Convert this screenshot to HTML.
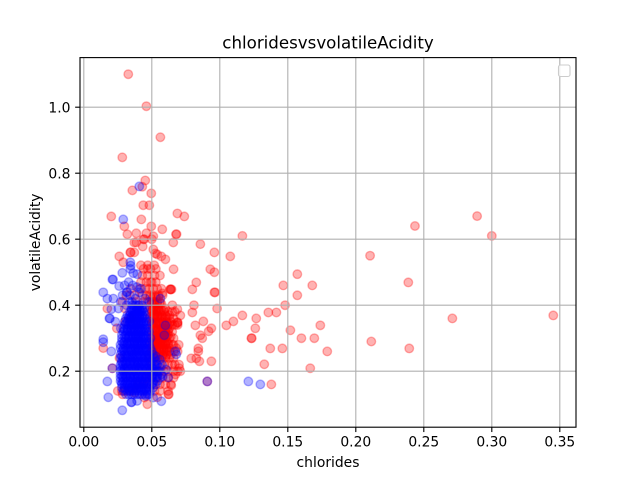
<!DOCTYPE html>
<html lang="en">
<head>
<meta charset="utf-8">
<title>chloridesvsvolatileAcidity</title>
<style>
html,body{margin:0;padding:0;background:#fff;}
#chart{display:block;width:640px;height:480px;font-family:"DejaVu Sans","Liberation Sans",sans-serif;}
</style>
</head>
<body>
<svg id="chart" xmlns="http://www.w3.org/2000/svg" width="640" height="480" viewBox="0 0 640 480">
  <rect x="0" y="0" width="640" height="480" fill="#fff"/>
  <rect x="80" y="57.6" width="496" height="369.6" fill="#fff"/>
  <g id="red-series"></g>
  <g id="blue-series"></g>
  <g id="grid"></g>
  <g id="axes"></g>
  <rect x="558.5" y="65" width="11.5" height="11.5" rx="2" ry="2" fill="#fff" fill-opacity="0.8" stroke="#ccc" stroke-width="1.1"/>
  <rect x="80" y="57.6" width="496" height="369.6" fill="none" stroke="#000" stroke-width="1.11"/>
  <text x="328" y="48.5" font-size="16.67" text-anchor="middle" fill="#000">chloridesvsvolatileAcidity</text>
  <text x="328" y="467" font-size="13.89" text-anchor="middle" fill="#000">chlorides</text>
  <text transform="translate(40 242.4) rotate(-90)" font-size="13.89" text-anchor="middle" fill="#000">volatileAcidity</text>
</svg>
<script>
const xTicks = [0, 0.05, 0.1, 0.15, 0.2, 0.25, 0.3, 0.35];
const xTickLabels = ["0.00", "0.05", "0.10", "0.15", "0.20", "0.25", "0.30", "0.35"];
const yTicks = [0.2, 0.4, 0.6, 0.8, 1.0];
const yTickLabels = ["0.2", "0.4", "0.6", "0.8", "1.0"];

const redChlorides = [
.0327,.046,.0563,.0283,.0452,.043,.0357,.0496,.0437,.0482,
.0688,.0739,.0202,.0423,.0298,.0496,.0577,.032,.0386,.046,
.0511,.0437,.0445,.05,.0371,.0386,.0433,.0658,.0678,.0682,
.0511,.0526,.054,.057,.06,.0261,.029,.0342,.0345,.0371,
.042,.047,.0518,.066,.1166,.0857,.096,.1077,.093,.096,
.157,.0827,.1467,.168,.0798,.064,.0645,.096,.0965,.157,
.148,.098,.081,.0798,.1166,.1357,.1416,.1268,.11,.1048,
.0879,.082,.0938,.0918,.1261,.1519,.1739,.16,.1695,.1232,
.1235,.0857,.0871,.179,.1371,.146,.0842,.0842,.079,.0827,
.085,.0938,.1327,.1665,.1379,.0908,.2435,.2892,.30,.2105,
.2386,.2114,.2393,.271,.3452,.0688,.0690,.0688,.071,.0688,
.0651,.0634,.0638,.0577,.0143,.021,.0467,.054,.0621,.0625,
.0643,.0673,.0702,.0698,.066,.068,.0345,.0372,.0312,.0283,
.0302,.0341,.0243,.0173,.0262,.0382,.0305,.0285,.0372,.0445
];
const redAcidity = [
1.10,1.003,.909,.848,.778,.759,.748,.739,.703,.703,
.678,.669,.669,.66,.639,.639,.63,.615,.618,.618,
.609,.6,.6,.6,.59,.59,.578,.59,.615,.615,
.569,.557,.554,.548,.539,.548,.53,.56,.56,.56,
.521,.521,.521,.509,.61,.585,.56,.548,.509,.50,
.494,.469,.46,.46,.448,.448,.448,.439,.439,.43,
.40,.39,.40,.378,.369,.378,.378,.36,.351,.339,
.351,.339,.33,.321,.33,.324,.339,.30,.30,.30,
.30,.309,.30,.26,.269,.269,.269,.26,.239,.239,
.23,.23,.221,.209,.16,.169,.64,.67,.61,.55,
.469,.29,.269,.36,.369,.348,.348,.345,.369,.388,
.40,.448,.448,.436,.27,.209,.10,.121,.13,.13,
.157,.19,.209,.28,.28,.27,.45,.43,.43,.41,
.39,.36,.33,.39,.24,.41,.35,.13,.135,.12
];

const redClusterAcidity = [.51,.49,.47,.45,.43,.41,.39,.38,.37,.36,.35,.34,.33,.32,.31,.30,.29,.28,.27,.26,.25,.24,.22,.20,.18,.16,.14,
.425,.405,.385,.365,.345,.325,.305,.285,.265,.245];
const redClusterChlorides = [
[.044,.049,.053,.047],
[.043,.047,.052,.056],
[.042,.046,.049,.053,.05],
[.041,.045,.048,.051,.054,.057],
[.043,.046,.049,.052,.055,.058],
[.044,.047,.05,.052,.054,.056,.051],
[.049,.051,.053,.055,.06,.052],
[.047,.05,.053,.056,.059,.062,.065,.067],
[.051,.054,.057,.06,.052,.063],
[.048,.051,.054,.057,.06,.063,.066],
[.05,.052,.055,.058,.061,.064],
[.05,.053,.056,.059,.062,.065,.067,.069],
[.051,.053,.055,.057,.059,.061,.063],
[.05,.053,.056,.058,.06,.062,.065],
[.052,.054,.056,.058,.06,.062,.057],
[.05,.052,.054,.056,.058,.06,.063,.066],
[.051,.053,.055,.057,.059,.061,.054],
[.05,.052,.054,.056,.058,.06,.062,.065],
[.051,.053,.055,.057,.059,.061,.063],
[.05,.053,.056,.059,.061,.063,.066,.069],
[.052,.055,.058,.061,.064],
[.048,.051,.054,.057,.06,.063,.066],
[.05,.053,.056,.059,.062,.065,.067,.07],
[.05,.053,.056,.059,.062,.066,.069,.071],
[.046,.05,.054,.058,.062,.066],
[.04,.044,.048,.052,.056,.06,.064],
[.025,.028,.03,.034,.052,.056,.062],
[.049,.051,.053,.055],
[.05,.052,.054,.056,.057],
[.05,.051,.053,.055,.057,.059],
[.049,.052,.054,.056,.058,.061],
[.05,.051,.053,.055,.057,.059,.061,.063],
[.049,.052,.054,.056,.058,.06,.062],
[.05,.051,.053,.055,.057,.059,.061,.064],
[.049,.052,.054,.056,.058,.06,.062],
[.05,.051,.053,.055,.057,.059,.061],
[.052,.054,.056,.058,.06]
];

const blueChlorides = [
.0408,.029,.0342,.0345,.0342,.0283,.021,.0215,.026,.0143,
.0315,.0318,.0408,.0173,.0217,.0272,.0202,.0188,.0192,.0143,
.0143,.0202,.021,.0173,.018,.0283,.0349,.0352,.0392,.057,
.0621,.0673,.068,.0482,.06,.0592,.0563,.0908,.121,.1298,
.0364,.0393,.033,.036,.039,.042,.03,.034,.045,.048,
.0285,.0335,.038,.043,.0255,.0315,.0355,.0405,.0445,.0232,
.0272,.053,.056,.0575,.0605,.054,.058,.0455,.048,.051
];
const blueAcidity = [
.76,.66,.53,.52,.51,.498,.478,.478,.458,.439,
.439,.44,.439,.42,.42,.41,.388,.36,.36,.297,
.288,.26,.209,.169,.121,.0815,.106,.106,.11,.109,
.181,.26,.251,.351,.339,.309,.42,.169,.169,.16,
.497,.494,.47,.46,.455,.45,.46,.43,.42,.41,
.43,.41,.42,.40,.39,.40,.41,.40,.39,.35,
.33,.245,.235,.22,.205,.20,.185,.125,.13,.12
];

const blueClusterAcidity = [.13,.14,.15,.16,.17,.18,.19,.20,.21,.22,.23,.24,.25,.26,.27,.28,.29,.30,.31,.32,.33,.34,.35,.36,.37,.38,.39,.40,
.145,.165,.185,.205,.225,.245,.265,.285,.305,.325,.345,.365,.385];
const blueClusterChlorides = [
[.031,.033,.035,.037,.039,.041,.043,.045,.047],
[.029,.032,.034,.036,.038,.04,.042,.044,.046,.049],
[.028,.03,.033,.035,.037,.039,.041,.043,.046,.048,.051],
[.028,.03,.032,.034,.036,.038,.04,.042,.044,.047,.05,.053],
[.027,.029,.032,.034,.036,.039,.041,.043,.045,.048,.051,.054],
[.027,.029,.031,.034,.036,.038,.04,.043,.045,.047,.05,.053,.056],
[.027,.03,.032,.034,.037,.039,.041,.044,.046,.048,.051,.054,.057],
[.027,.029,.031,.033,.036,.038,.04,.042,.045,.047,.049,.052,.055],
[.027,.03,.032,.035,.037,.039,.041,.043,.046,.048,.05,.053,.056],
[.027,.029,.031,.034,.036,.038,.04,.042,.044,.047,.049,.052,.054],
[.028,.03,.032,.035,.037,.039,.041,.043,.045,.048,.05,.053],
[.027,.029,.032,.034,.036,.038,.04,.043,.045,.047,.049,.052],
[.027,.03,.032,.035,.037,.039,.041,.044,.046,.048,.051],
[.028,.03,.033,.035,.037,.039,.041,.043,.045,.047,.05],
[.027,.029,.031,.034,.036,.038,.04,.042,.044,.046,.049],
[.027,.03,.032,.034,.037,.039,.041,.043,.045,.048],
[.028,.03,.033,.035,.037,.039,.041,.043,.046,.048],
[.028,.031,.033,.036,.038,.04,.042,.044,.046,.049],
[.028,.031,.034,.036,.038,.04,.042,.044,.047],
[.029,.032,.034,.036,.038,.04,.042,.044,.046,.048],
[.029,.032,.035,.037,.039,.041,.043,.045,.047],
[.03,.033,.035,.037,.039,.041,.043,.046],
[.03,.032,.034,.036,.038,.04,.042,.044,.046],
[.031,.033,.035,.037,.039,.041,.043,.045],
[.032,.034,.036,.037,.039,.041,.043,.045],
[.034,.036,.038,.04,.042,.044],
[.035,.037,.039,.041,.043],
[.036,.038,.04],
[.03,.033,.036,.039,.042,.045,.048],
[.028,.031,.035,.038,.041,.044,.047,.051],
[.028,.031,.034,.037,.04,.043,.046,.05,.054],
[.028,.03,.033,.037,.04,.043,.046,.049,.052],
[.028,.031,.034,.037,.04,.043,.046,.049],
[.028,.031,.033,.036,.039,.042,.045,.048],
[.029,.032,.035,.038,.04,.043,.046],
[.029,.032,.034,.037,.04,.042,.045,.047],
[.03,.033,.035,.038,.04,.043,.045],
[.03,.032,.035,.037,.04,.042,.045],
[.031,.034,.036,.038,.04,.042,.044],
[.033,.035,.037,.039,.041,.044],
[.035,.037,.039,.041,.043]
];

const SVG_NS = "http://www.w3.org/2000/svg";
function xScale(v) { return 83.8 + 1360 * v; }
function yScale(v) { return 437.2 - 330 * v; }

function drawPoint(group, xValue, yValue, color, markName) {
  const c = document.createElementNS(SVG_NS, "circle");
  c.setAttribute("cx", xScale(xValue));
  c.setAttribute("cy", yScale(yValue));
  c.setAttribute("r", 4.3);
  c.setAttribute("fill", color);
  c.setAttribute("fill-opacity", 0.3);
  c.setAttribute("stroke", color);
  c.setAttribute("stroke-opacity", 0.3);
  c.setAttribute("stroke-width", 1.39);
  
  
  group.appendChild(c);
}
function drawSeries(groupId, xs, ys, rowLevels, rows, color, markName) {
  const group = document.getElementById(groupId);
  xs.forEach(function (x, i) {
    drawPoint(group, x, ys[i], color, markName);
  });
  rows.forEach(function (row, i) {
    row.forEach(function (x) {
      drawPoint(group, x, rowLevels[i], color, markName);
    });
  });
}
drawSeries("red-series", redChlorides, redAcidity, redClusterAcidity, redClusterChlorides, "#ff0000", "red-point");
drawSeries("blue-series", blueChlorides, blueAcidity, blueClusterAcidity, blueClusterChlorides, "#0000ff", "blue-point");

const gridGroup = document.getElementById("grid");
const axesGroup = document.getElementById("axes");
function makeLine(x1, y1, x2, y2, color) {
  const l = document.createElementNS(SVG_NS, "line");
  l.setAttribute("x1", x1);
  l.setAttribute("y1", y1);
  l.setAttribute("x2", x2);
  l.setAttribute("y2", y2);
  l.setAttribute("stroke", color);
  l.setAttribute("stroke-width", 1.11);
  return l;
}
function makeLabel(x, y, anchor, str) {
  const t = document.createElementNS(SVG_NS, "text");
  t.setAttribute("x", x);
  t.setAttribute("y", y);
  t.setAttribute("text-anchor", anchor);
  t.setAttribute("font-size", 13.89);
  t.setAttribute("fill", "#000");
  t.textContent = str;
  return t;
}
xTicks.forEach(function (v, i) {
  const px = xScale(v);
  const g = makeLine(px, 57.6, px, 427.2, "#b0b0b0");
  
  
  gridGroup.appendChild(g);
  const t = makeLine(px, 427.2, px, 432.06, "#000");
  
  
  axesGroup.appendChild(t);
  const lab = makeLabel(px, 446.5, "middle", xTickLabels[i]);
  
  
  axesGroup.appendChild(lab);
});
yTicks.forEach(function (v, i) {
  const py = yScale(v);
  const g = makeLine(80, py, 576, py, "#b0b0b0");
  
  
  gridGroup.appendChild(g);
  const t = makeLine(75.14, py, 80, py, "#000");
  
  
  axesGroup.appendChild(t);
  const lab = makeLabel(70.5, py + 5.2, "end", yTickLabels[i]);
  
  
  axesGroup.appendChild(lab);
});
</script>
</body>
</html>
